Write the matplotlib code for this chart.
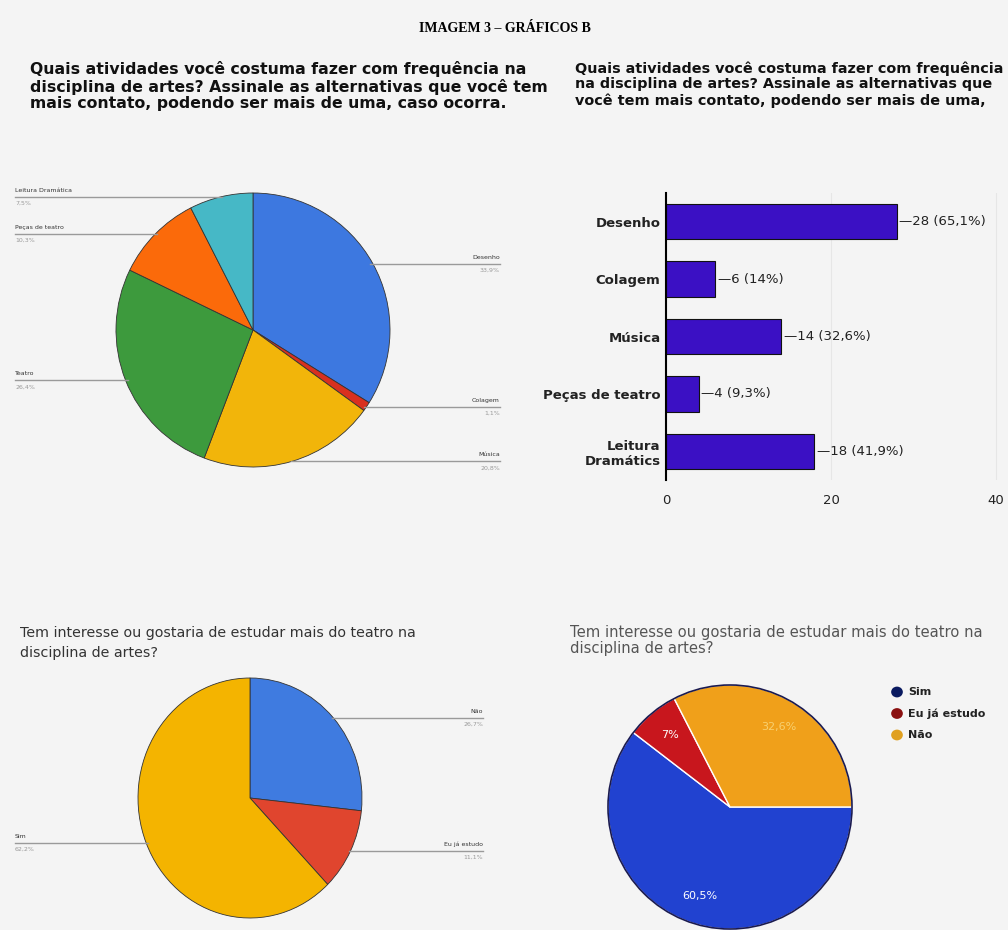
import numpy as np
import matplotlib
matplotlib.use("Agg")
import matplotlib.pyplot as plt

# ---- data ----
tl_labels = ["Desenho", "Colagem", "Música", "Teatro", "Peças de teatro", "Leitura Dramática"]
tl_values = [33.9, 1.1, 20.8, 26.4, 10.3, 7.5]
tl_colors = ["#3d78e0", "#d9301f", "#f2b50a", "#3d9a3d", "#fb6a0a", "#46b8c6"]

bar_cats = ["Desenho", "Colagem", "Música", "Peças de teatro", "Leitura\nDramátics"]
bar_vals = [28, 6, 14, 4, 18]
bar_pcts = ["65,1%", "14%", "32,6%", "9,3%", "41,9%"]
bar_ticks = [0, 20, 40]

bl_labels = ["Não", "Eu já estudo", "Sim"]
bl_values = [26.7, 11.1, 62.2]
bl_colors = ["#3f7be0", "#e0452e", "#f4b400"]

br_labels = ["Sim", "Eu já estudo", "Não"]
br_values = [60.5, 7.0, 32.6]
br_pct = ["60,5%", "7%", "32,6%"]
br_colors = ["#2142d0", "#c8161d", "#f0a01a"]

W, H = 1008, 930
BG = "#f4f4f4"
fig = plt.figure(figsize=(W / 100, H / 100), dpi=100, facecolor=BG)


def px_axes(x0, y0, x1, y1):
    ax = fig.add_axes([x0 / W, 1 - y1 / H, (x1 - x0) / W, (y1 - y0) / H])
    ax.set_facecolor("none")
    return ax


def fit_pie(ax, box, cx, cy, rx, ry):
    ax.set_aspect("auto")
    ax.set_xlim((box[0] - cx) / rx, (box[2] - cx) / rx)
    ax.set_ylim((cy - box[3]) / ry, (cy - box[1]) / ry)
    ax.axis("off")


def leader_labels(ax, wedges, labels, pcts, x_left, x_right, fs=4.5):
    for w, lab, p in zip(wedges, labels, pcts):
        ang = np.deg2rad((w.theta1 + w.theta2) / 2)
        x, y = np.cos(ang), np.sin(ang)
        if x >= 0:
            xe, ha = x_right, "right"
        else:
            xe, ha = x_left, "left"
        ax.plot([x * 0.98, xe], [y, y], color="#9a9a9a", lw=1.0, clip_on=False)
        ax.text(xe, y + 0.03, lab, ha=ha, va="bottom", fontsize=fs, color="#333333")
        ax.text(xe, y - 0.03, p, ha=ha, va="top", fontsize=fs, color="#999999")


# ---- header ----
fig.text(505 / W, 1 - 28 / H, "IMAGEM 3 – GRÁFICOS B", ha="center", va="center",
         fontsize=10, fontweight="bold", family="Liberation Serif")
sub_font = dict(fontsize=11.3, fontweight="bold", va="top", ha="left",
                linespacing=1.12, color="#111111")
fig.text(30 / W, 1 - 61 / H,
         "Quais atividades você costuma fazer com frequência na\n"
         "disciplina de artes? Assinale as alternativas que você tem\n"
         "mais contato, podendo ser mais de uma, caso ocorra.", **sub_font)
sub_font["fontsize"] = 10.4
sub_font["linespacing"] = 1.18
fig.text(575 / W, 1 - 61 / H,
         "Quais atividades você costuma fazer com frequência\n"
         "na disciplina de artes? Assinale as alternativas que\n"
         "você tem mais contato, podendo ser mais de uma,", **sub_font)

# ---- top-left pie ----
box = (0, 185, 545, 485)
ax1 = px_axes(*box)
w1, _ = ax1.pie(tl_values, colors=tl_colors, startangle=90, counterclock=False, radius=1,
                wedgeprops=dict(edgecolor="#333333", linewidth=0.6))
fit_pie(ax1, box, 253, 330, 137, 137)
leader_labels(ax1, w1, tl_labels, [f"{v:.1f}%".replace(".", ",") for v in tl_values],
              (15 - 253) / 137, (500 - 253) / 137)

# ---- bar chart ----
axb = px_axes(666, 193, 1000, 480)
ypos = np.arange(len(bar_cats))
axb.barh(ypos, bar_vals, height=0.62, color="#3b10c4", edgecolor="#111111", linewidth=0.8)
axb.set_ylim(len(bar_cats) - 0.5, -0.5)
axb.set_xlim(0, 40.5)
axb.set_yticks(ypos)
axb.set_yticklabels(bar_cats, fontsize=9.5, fontweight="bold", color="#222222")
axb.set_xticks(bar_ticks)
axb.set_xticklabels([str(t) for t in bar_ticks], fontsize=9.5, color="#222222")
axb.tick_params(axis="y", length=0, pad=4)
axb.tick_params(axis="x", length=0, pad=10)
for s in ["top", "right", "bottom"]:
    axb.spines[s].set_visible(False)
axb.spines["left"].set_linewidth(1.5)
axb.grid(axis="x", color="#e6e6e6", lw=0.8)
axb.set_axisbelow(True)
for y, v, p in zip(ypos, bar_vals, bar_pcts):
    axb.text(v + 0.3, y, f"—{v} ({p})", va="center", ha="left", fontsize=9.5, color="#222222")

# ---- bottom-left pie ----
fig.text(20 / W, 1 - 626 / H,
         "Tem interesse ou gostaria de estudar mais do teatro na\ndisciplina de artes?",
         ha="left", va="top", fontsize=10.3, color="#333333", linespacing=1.55)
box = (0, 670, 545, 930)
ax2 = px_axes(*box)
w2, _ = ax2.pie(bl_values, colors=bl_colors, startangle=90, counterclock=False, radius=1,
                wedgeprops=dict(edgecolor="#333333", linewidth=0.6))
fit_pie(ax2, box, 250, 798, 112, 120)
leader_labels(ax2, w2, bl_labels, [f"{v:.1f}%".replace(".", ",") for v in bl_values],
              (15 - 250) / 112, (483 - 250) / 112)

# ---- bottom-right pie ----
fig.text(570 / W, 1 - 625 / H,
         "Tem interesse ou gostaria de estudar mais do teatro na\ndisciplina de artes?",
         ha="left", va="top", fontsize=10.6, color="#555555", linespacing=1.1)
box = (560, 670, 1008, 930)
ax3 = px_axes(*box)
w3, _ = ax3.pie(br_values, colors=br_colors, startangle=0, counterclock=False, radius=1,
                wedgeprops=dict(edgecolor="white", linewidth=1.0))
ax3.add_patch(plt.Circle((0, 0), 1, fill=False, edgecolor="#1a1a50", lw=1.2))
for w, t, c in zip(w3, br_pct, ["white", "white", "#f8d070"]):
    ang = np.deg2rad((w.theta1 + w.theta2) / 2)
    ax3.text(0.77 * np.cos(ang), 0.77 * np.sin(ang), t, ha="center", va="center",
             fontsize=8, color=c)
fit_pie(ax3, box, 730, 807, 122, 122)
for i, (lab, c) in enumerate(zip(br_labels, ["#0a1a60", "#8a1010", "#e0a020"])):
    yy = 692 + i * 21.5
    fig.patches.append(plt.Circle((897 / W, 1 - yy / H), 0.0058, transform=fig.transFigure,
                                  facecolor=c, edgecolor="none"))
    fig.text(908 / W, 1 - yy / H, lab, ha="left", va="center", fontsize=8,
             fontweight="bold", color="#222222")

fig.savefig("out.png", dpi=100, facecolor=BG)
